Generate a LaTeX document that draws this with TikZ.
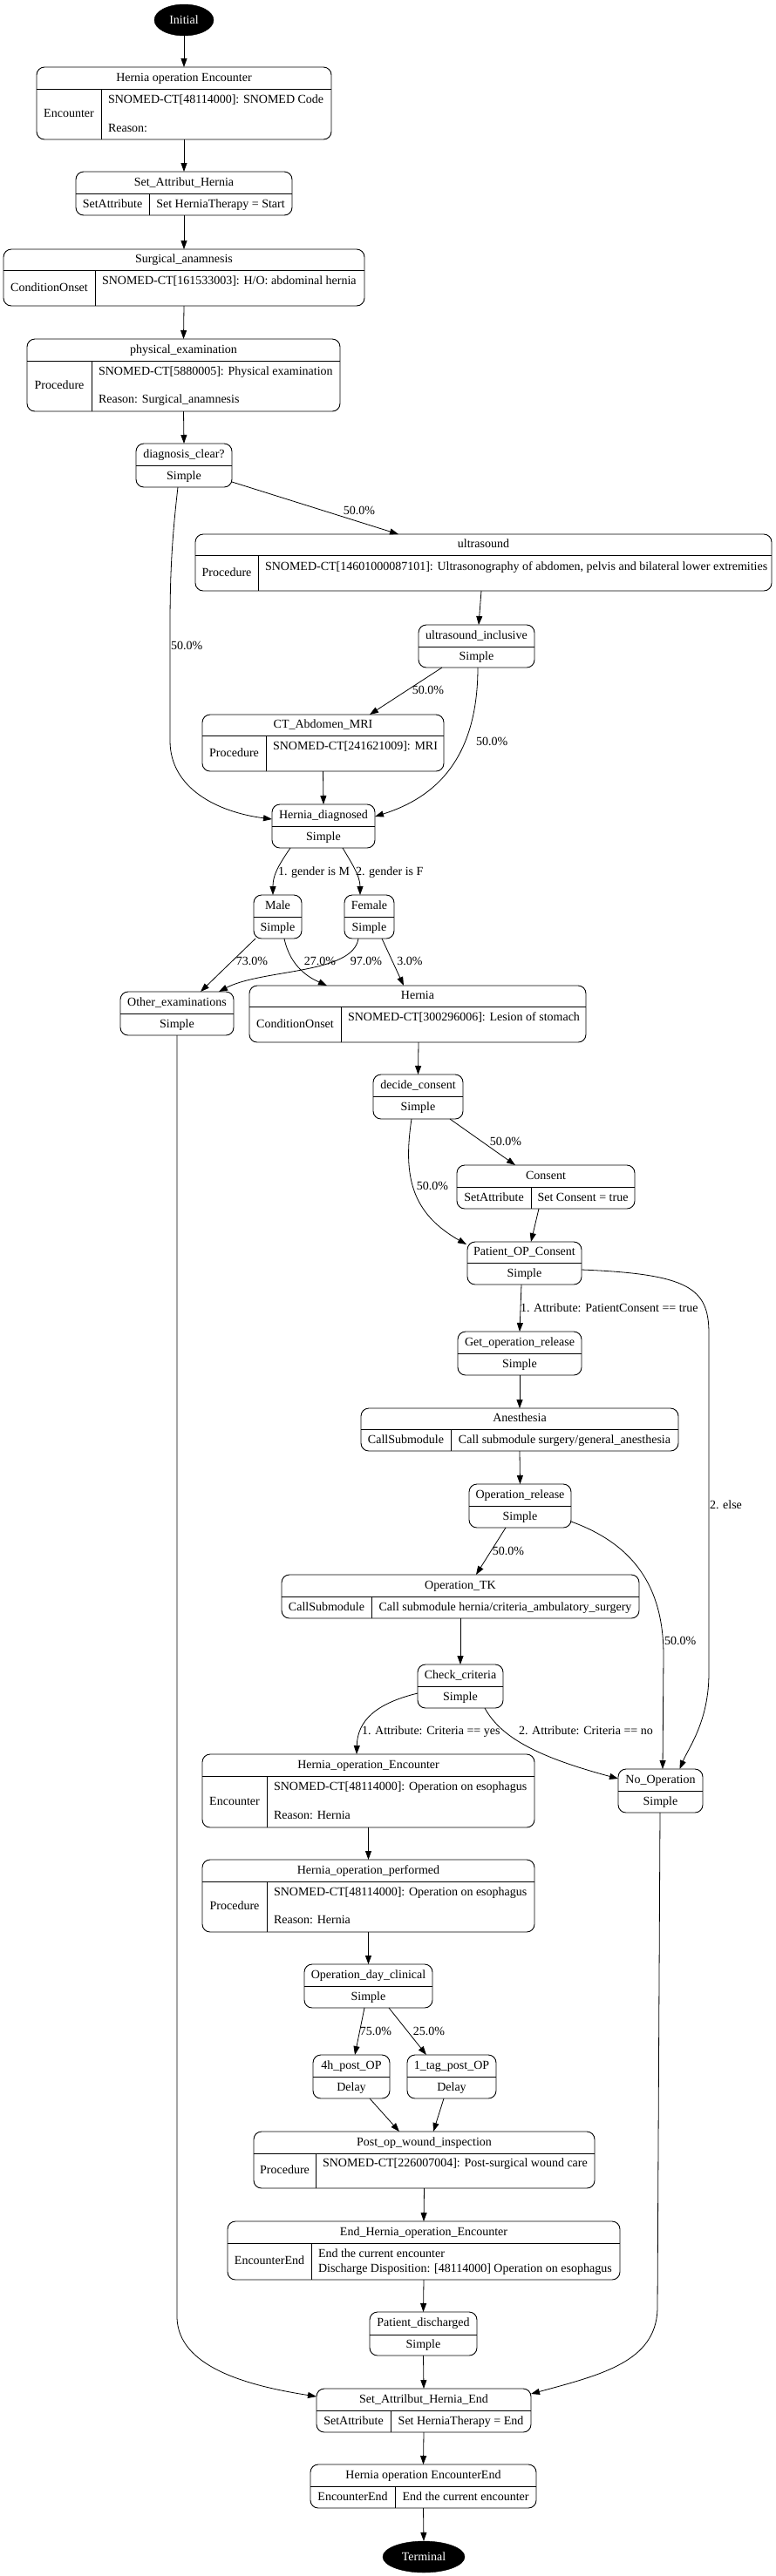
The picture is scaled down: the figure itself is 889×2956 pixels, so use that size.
\documentclass[tikz,border=0pt]{standalone}
\usepackage{fontspec}
\setmainfont{Liberation Serif}
\usetikzlibrary{arrows.meta,calc,shapes.geometric}

\tikzset{
  box/.style={draw, rounded corners=9pt, line width=0.9pt, inner sep=0pt, outer sep=0pt},
  divl/.style={line width=0.9pt},
  txt/.style={inner sep=0pt, outer sep=0pt, font=\fontsize{14}{16}\selectfont, text height=10pt, text depth=3pt},
  lbl/.style={txt},
  arr/.style={draw, line width=0.8pt, -{Triangle[length=10pt,width=7pt]}},
  termnode/.style={ellipse, fill=black, draw=black, text=white, minimum height=36pt, inner sep=0pt, outer sep=0pt, font=\fontsize{14}{16}\selectfont}
}

\newcommand{\recbox}[9]{%
  \node[box, minimum width={#4-#2}, minimum height={#5-#3}] (#1) at ({(#2+#4)/2},{(#3+#5)/2}) {};
  \draw[divl] (#2,#6) -- (#4,#6);
  \draw[divl] (#7,#6) -- (#7,#5);
  \node[txt] (#1-t) at ({(#2+#4)/2},{(#3+#6)/2}) {#8};
  \node[txt] (#1-l) at ({(#2+#7)/2},{(#6+#5)/2}) {#9};
}
\newcommand{\simbox}[8]{%
  \node[box, minimum width={#4-#2}, minimum height={#5-#3}] (#1) at ({(#2+#4)/2},{(#3+#5)/2}) {};
  \draw[divl] (#2,#6) -- (#4,#6);
  \node[txt] (#1-t) at ({(#2+#4)/2},{(#3+#6)/2}) {#7};
  \node[txt] (#1-s) at ({(#2+#4)/2},{(#6+#5)/2}) {#8};
}

\begin{document}
\begin{tikzpicture}[x=1pt,y=-1pt]
\useasboundingbox (0,0) rectangle (889,2956);

% ---------- nodes ----------
\node[termnode, minimum width=68pt] (init) at (211,23) {Initial};

\recbox{enc}{42}{77}{380}{160}{102}{116}{Hernia operation Encounter}{Encounter}
\node[txt,anchor=west] (enc-r1) at (124,115) {SNOMED-CT[48114000]: SNOMED Code};
\node[txt,anchor=west] (enc-r2) at (124,148) {Reason:};

\recbox{sah}{87}{197}{335}{247}{222}{171}{Set\_Attribut\_Hernia}{SetAttribute}
\node[txt] (sah-r) at (253,234.5) {Set HerniaTherapy = Start};

\recbox{surg}{4}{286}{418}{351}{310}{109}{Surgical\_anamnesis}{ConditionOnset}
\node[txt,anchor=west] (surg-r) at (117,323) {SNOMED-CT[161533003]: H/O: abdominal hernia};

\recbox{phys}{31}{389}{390}{472}{414}{105}{physical\_examination}{Procedure}
\node[txt,anchor=west] (phys-r1) at (113,427) {SNOMED-CT[5880005]: Physical examination};
\node[txt,anchor=west] (phys-r2) at (113,459) {Reason: Surgical\_anamnesis};

\simbox{diag}{156}{509}{266}{559}{534}{diagnosis\_clear?}{Simple}

\recbox{us}{224}{613}{885}{678}{637}{296}{ultrasound}{Procedure}
\node[txt,anchor=west] (us-r) at (304,651) {SNOMED-CT[14601000087101]: Ultrasonography of abdomen, pelvis and bilateral lower extremities};

\simbox{usi}{480}{717}{613}{766}{742}{ultrasound\_inclusive}{Simple}

\recbox{ct}{232}{820}{509}{885}{844}{305}{CT\_Abdomen\_MRI}{Procedure}
\node[txt,anchor=west] (ct-r) at (313,857) {SNOMED-CT[241621009]: MRI};

\simbox{hd}{312}{923}{430}{973}{948}{Hernia\_diagnosed}{Simple}
\simbox{male}{291}{1027}{346}{1077}{1052}{Male}{Simple}
\simbox{female}{395}{1027}{452}{1077}{1052}{Female}{Simple}
\simbox{oth}{138}{1138}{268}{1188}{1163}{Other\_examinations}{Simple}

\recbox{hern}{286}{1131}{672}{1196}{1155}{391}{Hernia}{ConditionOnset}
\node[txt,anchor=west] (hern-r) at (399,1168) {SNOMED-CT[300296006]: Lesion of stomach};

\simbox{dc}{428}{1233}{531}{1284}{1258}{decide\_consent}{Simple}

\recbox{cons}{524}{1337}{728}{1387}{1362}{609}{Consent}{SetAttribute}
\node[txt] (cons-r) at (668.5,1374.5) {Set Consent = true};

\simbox{poc}{536}{1425}{667}{1474}{1449}{Patient\_OP\_Consent}{Simple}
\simbox{gor}{525}{1528}{667}{1578}{1553}{Get\_operation\_release}{Simple}

\recbox{anes}{414}{1616}{778}{1665}{1640}{517}{Anesthesia}{CallSubmodule}
\node[txt] (anes-r) at (647.5,1652.5) {Call submodule surgery/general\_anesthesia};

\simbox{opr}{538}{1703}{655}{1753}{1728}{Operation\_release}{Simple}

\recbox{optk}{323}{1807}{733}{1857}{1832}{426}{Operation\_TK}{CallSubmodule}
\node[txt] (optk-r) at (579.5,1844.5) {Call submodule hernia/criteria\_ambulatory\_surgery};

\simbox{cc}{479}{1910}{577}{1960}{1935}{Check\_criteria}{Simple}
\simbox{noop}{709}{2030}{806}{2080}{2055}{No\_Operation}{Simple}

\recbox{hoe}{232}{2013}{613}{2097}{2038}{306}{Hernia\_operation\_Encounter}{Encounter}
\node[txt,anchor=west] (hoe-r1) at (314,2051) {SNOMED-CT[48114000]: Operation on esophagus};
\node[txt,anchor=west] (hoe-r2) at (314,2084) {Reason: Hernia};

\recbox{hop}{232}{2134}{613}{2217}{2159}{306}{Hernia\_operation\_performed}{Procedure}
\node[txt,anchor=west] (hop-r1) at (314,2172) {SNOMED-CT[48114000]: Operation on esophagus};
\node[txt,anchor=west] (hop-r2) at (314,2204) {Reason: Hernia};

\simbox{odc}{349}{2254}{496}{2304}{2279}{Operation\_day\_clinical}{Simple}
\simbox{h4}{359}{2358}{447}{2408}{2383}{4h\_post\_OP}{Delay}
\simbox{t1}{467}{2358}{569}{2408}{2383}{1\_tag\_post\_OP}{Delay}

\recbox{pow}{291}{2446}{682}{2511}{2471}{362}{Post\_op\_wound\_inspection}{Procedure}
\node[txt,anchor=west] (pow-r) at (370,2483) {SNOMED-CT[226007004]: Post-surgical wound care};

\recbox{ehe}{261}{2549}{711}{2616}{2574}{357}{End\_Hernia\_operation\_Encounter}{EncounterEnd}
\node[txt,anchor=west] (ehe-r1) at (365,2587) {End the current encounter};
\node[txt,anchor=west] (ehe-r2) at (365,2604) {Discharge Disposition: [48114000] Operation on esophagus};

\simbox{pd}{424}{2653}{547}{2703}{2679}{Patient\_discharged}{Simple}

\recbox{sahe}{363}{2741}{609}{2791}{2766}{448}{Set\_Attrilbut\_Hernia\_End}{SetAttribute}
\node[txt] (sahe-r) at (528.5,2778.5) {Set HerniaTherapy = End};

\recbox{hoee}{356}{2828}{615}{2878}{2853}{453}{Hernia operation EncounterEnd}{EncounterEnd}
\node[txt] (hoee-r) at (534,2865.5) {End the current encounter};

\node[termnode, minimum width=94pt] (term) at (486,2934) {Terminal};

% ---------- edges ----------
\draw[arr] (init.south) -- (enc.north);
\draw[arr] (enc.south) -- (sah.north);
\draw[arr] (sah.south) -- (surg.north);
\draw[arr] (surg.south) -- (phys.north);
\draw[arr] (phys.south) -- (diag.north);

\draw[arr] ($(diag.south east)+(0,-6)$) -- ($(us.north west)+(233,0)$);
\node[lbl] (l1) at (412,587) {50.0\%};

\draw[arr] ($(diag.south)+(-7,0)$) .. controls (197,620) and (195,660) .. (195,720) -- (195,850) .. controls (195,905) and (250,932) .. ($(hd.west)+(0,-8)$);
\node[lbl,anchor=west] (l2) at (196,742) {50.0\%};

\draw[arr] ($(us.south)+(-2.5,0)$) -- ($(usi.north)+(2.5,0)$);

\draw[arr] ($(usi.south)+(-39.5,0)$) -- ($(ct.north)+(53.5,0)$);
\node[lbl] (l3) at (491,793) {50.0\%};

\draw[arr] ($(usi.south)+(1.5,0)$) .. controls (548,870) and (500,915) .. ($(hd.east)+(0,-11)$);
\node[lbl,anchor=west] (l4) at (546,852) {50.0\%};

\draw[arr] (ct.south) -- (hd.north);

\draw[arr] ($(hd.south west)+(21,0)$) .. controls (318,995) and (313,1005) .. ($(male.north)+(-5.5,0)$);
\node[lbl,anchor=west] (l5) at (319,1001) {1. gender is M};
\draw[arr] ($(hd.south west)+(81,0)$) .. controls (403,990) and (413,1005) .. ($(female.north)+(-10.5,0)$);
\node[lbl,anchor=west] (l6) at (408,1001) {2. gender is F};

\draw[arr] ($(male.south)+(-25.5,0)$) -- ($(oth.north)+(27,0)$);
\node[lbl] (l7) at (289,1104) {73.0\%};
\draw[arr] ($(male.south)+(7.5,0)$) .. controls (333,1110) and (355,1122) .. ($(hern.north west)+(89,0)$);
\node[lbl] (l8) at (367,1104) {27.0\%};
\draw[arr] ($(female.south)+(-12.5,0)$) .. controls (405,1118) and (300,1112) .. ($(oth.north)+(48,0)$);
\node[lbl] (l9) at (420,1104) {97.0\%};
\draw[arr] ($(female.south)+(14.5,0)$) -- ($(hern.north west)+(177,0)$);
\node[lbl] (l10) at (470,1104) {3.0\%};

\draw[arr] ($(hern.south)+(1,0)$) -- (dc.north);

\draw[arr] (oth.south) -- (203,2660) .. controls (205,2715) and (280,2737) .. ($(sahe.north west)+(0,9)$);

\draw[arr] ($(dc.south east)+(-15,0)$) -- ($(cons.north west)+(67,0)$);
\node[lbl] (l11) at (580,1311) {50.0\%};
\draw[arr] ($(dc.south)+(-7.5,0)$) .. controls (462,1350) and (472,1392) .. ($(poc.north west)+(-1,3)$);
\node[lbl] (l12) at (496,1362) {50.0\%};

\draw[arr] ($(cons.south)+(-8,0)$) -- ($(poc.north)+(7.5,0)$);

\draw[arr] ($(poc.south)+(-3.5,0)$) -- (gor.north);
\node[lbl,anchor=west] (l13) at (597,1502) {1. Attribute: PatientConsent == true};

\draw[arr] ($(poc.east)+(0,7.5)$) .. controls (790,1462) and (813,1478) .. (813,1530) -- (813,1920) .. controls (813,1975) and (790,2005) .. ($(noop.north)+(22,0)$);
\node[lbl,anchor=west] (l14) at (814,1728) {2. else};

\draw[arr] (gor.south) -- (anes.north);
\draw[arr] (anes.south) -- (opr.north);

\draw[arr] ($(opr.south)+(-16.5,0)$) -- ($(optk.north)+(18,0)$);
\node[lbl] (l15) at (583,1781) {50.0\%};

\draw[arr] ($(opr.east)+(0,18)$) .. controls (735,1775) and (761,1830) .. (761,1900) -- ($(noop.north)+(2.5,0)$);
\node[lbl,anchor=west] (l16) at (762,1884) {50.0\%};

\draw[arr] (optk.south) -- (cc.north);

\draw[arr] ($(cc.west)+(0,8)$) .. controls (430,1955) and (410,1975) .. ($(hoe.north)+(-13.5,0)$);
\node[lbl,anchor=west] (l17) at (415,1987) {1. Attribute: Criteria == yes};
\draw[arr] ($(cc.south east)+(-21,0)$) .. controls (575,1995) and (620,2017) .. ($(noop.west)+(0,-14)$);
\node[lbl,anchor=west] (l18) at (595,1987) {2. Attribute: Criteria == no};

\draw[arr] (hoe.south) -- (hop.north);

\draw[arr] ($(noop.south)+(-0.5,0)$) -- (754,2650) .. controls (752,2710) and (690,2725) .. ($(sahe.north east)+(0,6)$);

\draw[arr] (hop.south) -- (odc.north);
\draw[arr] ($(odc.south)+(-4.5,0)$) -- ($(h4.north)+(4,0)$);
\node[lbl] (l19) at (431,2332) {75.0\%};
\draw[arr] ($(odc.south)+(23.5,0)$) -- ($(t1.north)+(-29,0)$);
\node[lbl] (l20) at (492,2332) {25.0\%};

\draw[arr] ($(h4.south)+(21,0)$) -- ($(pow.north)+(-28.5,0)$);
\draw[arr] ($(t1.south)+(-9,0)$) -- ($(pow.north)+(10.5,0)$);

\draw[arr] (pow.south) -- (ehe.north);
\draw[arr] (ehe.south) -- (pd.north);
\draw[arr] (pd.south) -- (sahe.north);
\draw[arr] (sahe.south) -- (hoee.north);
\draw[arr] (hoee.south) -- (term.north);
\end{tikzpicture}
\end{document}
